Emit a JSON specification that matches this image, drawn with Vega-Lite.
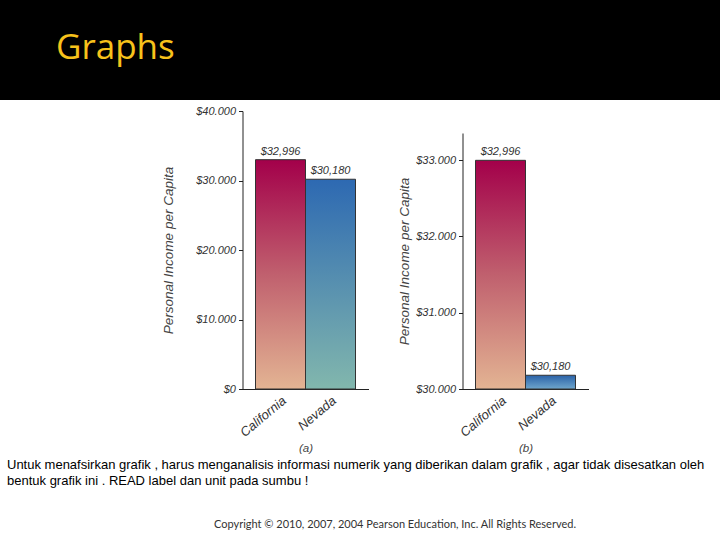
{
  "$schema": "https://vega.github.io/schema/vega-lite/v6.json",
  "padding": 0,
  "background": "white",
  "spacing": 5,
  "center": true,
  "config": {
    "view": {"stroke": null},
    "font": "Liberation Sans",
    "axis": {
      "grid": false,
      "labelFont": "Liberation Sans",
      "labelFontStyle": "italic",
      "labelFontSize": 11,
      "labelColor": "#333333",
      "titleFont": "Liberation Sans",
      "titleFontStyle": "italic",
      "titleFontWeight": "normal",
      "titleFontSize": 13.5,
      "titleColor": "#444444",
      "domainColor": "#222222",
      "tickColor": "#222222"
    }
  },
  "datasets": {
    "income": [
      {"state": "California", "income": 32996},
      {"state": "Nevada", "income": 30180}
    ],
    "none": [],
    "heading": [{"t": "Graphs"}],
    "copy": [{"t": "Copyright © 2010, 2007, 2004 Pearson Education, Inc. All Rights Reserved."}]
  },
  "vconcat": [
    {
      "width": 720,
      "height": 100,
      "view": {"fill": "black", "stroke": null},
      "data": {"name": "heading"},
      "mark": {"type": "text", "align": "left", "baseline": "alphabetic", "dx": -304, "dy": 9, "font": "Open Sans", "fontSize": 35, "color": "#f7c21b"},
      "encoding": {"text": {"field": "t"}}
    },
    {
      "spacing": 29,
      "hconcat": [
        {
          "width": 1,
          "height": 1,
          "data": {"name": "none"},
          "mark": {"type": "text"},
          "encoding": {}
        },
        {
          "width": 126,
          "height": 278,
          "data": {"name": "income"},
          "encoding": {
            "x": {
              "field": "state", "type": "nominal", "sort": ["California", "Nevada"],
              "scale": {"paddingInner": 0, "paddingOuter": 0.26},
              "axis": {"title": "(a)", "labelAngle": -40, "ticks": false, "labelPadding": 5, "titlePadding": 3, "labelFontSize": 13, "titleFontSize": 11.5}
            },
            "y": {
              "field": "income", "type": "quantitative",
              "scale": {"domain": [0, 40000]},
              "axis": {
                "title": "Personal Income per Capita",
                "values": [0, 10000, 20000, 30000, 40000],
                "labelExpr": "'$' + replace(format(datum.value, ','), ',', '.')",
                "tickSize": 4, "labelPadding": 3, "titlePadding": 20
              }
            }
          },
          "layer": [
            {
              "transform": [{"filter": "datum.state === 'California'"}],
              "mark": {
                "type": "bar", "stroke": "#333333", "strokeWidth": 1,
                "fill": {"gradient": "linear", "x1": 0, "y1": 0, "x2": 0, "y2": 1,
                  "stops": [{"offset": 0, "color": "#a3004a"}, {"offset": 0.5, "color": "#c0606e"}, {"offset": 1, "color": "#e3b493"}]}
              }
            },
            {
              "transform": [{"filter": "datum.state === 'Nevada'"}],
              "mark": {
                "type": "bar", "stroke": "#333333", "strokeWidth": 1,
                "fill": {"gradient": "linear", "x1": 0, "y1": 0, "x2": 0, "y2": 1,
                  "stops": [{"offset": 0, "color": "#2d69b2"}, {"offset": 1, "color": "#82b7ad"}]}
              }
            },
            {
              "mark": {"type": "text", "baseline": "bottom", "dy": -3, "fontStyle": "italic", "fontSize": 11, "color": "#333333"},
              "encoding": {"text": {"field": "income", "type": "quantitative", "format": "$,.0f"}}
            }
          ]
        },
        {
          "width": 126,
          "height": 278,
          "data": {"name": "income"},
          "encoding": {
            "x": {
              "field": "state", "type": "nominal", "sort": ["California", "Nevada"],
              "scale": {"paddingInner": 0, "paddingOuter": 0.26},
              "axis": {"title": "(b)", "labelAngle": -40, "ticks": false, "labelPadding": 5, "titlePadding": 3, "labelFontSize": 13, "titleFontSize": 11.5}
            },
            "y": {
              "field": "income", "type": "quantitative", "stack": null,
              "scale": {"domain": [30000, 33354], "zero": false, "range": [278, 22]},
              "axis": {
                "title": "Personal Income per Capita",
                "values": [30000, 31000, 32000, 33000],
                "labelExpr": "'$' + replace(format(datum.value, ','), ',', '.')",
                "tickSize": 4, "labelPadding": 3, "titlePadding": 4
              }
            }
          },
          "layer": [
            {
              "transform": [{"filter": "datum.state === 'California'"}],
              "mark": {
                "type": "bar", "stroke": "#333333", "strokeWidth": 1,
                "fill": {"gradient": "linear", "x1": 0, "y1": 0, "x2": 0, "y2": 1,
                  "stops": [{"offset": 0, "color": "#a3004a"}, {"offset": 0.5, "color": "#c0606e"}, {"offset": 1, "color": "#e3b493"}]}
              }
            },
            {
              "transform": [{"filter": "datum.state === 'Nevada'"}],
              "mark": {
                "type": "bar", "stroke": "#333333", "strokeWidth": 1,
                "fill": {"gradient": "linear", "x1": 0, "y1": 0, "x2": 0, "y2": 1,
                  "stops": [{"offset": 0, "color": "#2a62a8"}, {"offset": 1, "color": "#6fa6cc"}]}
              }
            },
            {
              "mark": {"type": "text", "baseline": "bottom", "dy": -3, "fontStyle": "italic", "fontSize": 11, "color": "#333333"},
              "encoding": {"text": {"field": "income", "type": "quantitative", "format": "$,.0f"}}
            }
          ]
        }
      ]
    },
    {
      "width": 720,
      "height": 40,
      "data": {"name": "copy"},
      "title": {
        "text": [
          "Untuk  menafsirkan grafik ,  harus menganalisis informasi numerik yang diberikan dalam grafik , agar tidak disesatkan oleh",
          "bentuk grafik ini . READ label dan unit pada sumbu !"
        ],
        "anchor": "start", "frame": "group", "dx": 7, "offset": 4,
        "font": "Liberation Sans", "fontSize": 13, "fontWeight": "normal", "color": "#000000", "lineHeight": 16
      },
      "mark": {"type": "text", "font": "Lato", "fontSize": 11, "color": "#333333", "dx": 35, "dy": 13},
      "encoding": {"text": {"field": "t"}}
    }
  ]
}
